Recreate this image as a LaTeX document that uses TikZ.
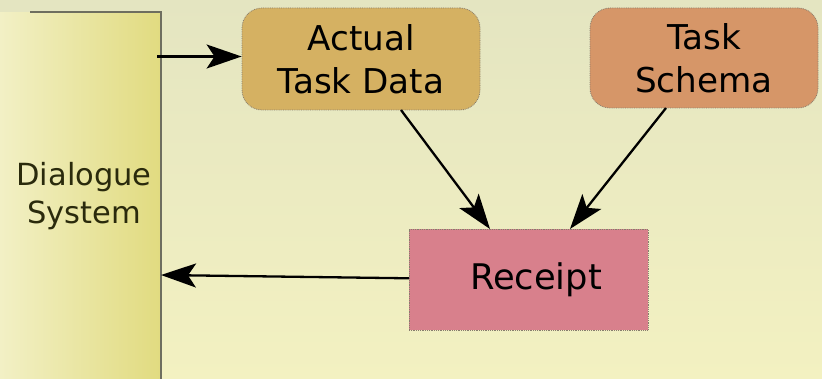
\documentclass[tikz,border=0pt]{standalone}
\usepackage{fontspec}
\setmainfont{DejaVu Sans}
\usetikzlibrary{arrows.meta}
\definecolor{bgtop}{RGB}{228,229,193}
\definecolor{bgbot}{RGB}{243,241,193}
\definecolor{panelL}{RGB}{242,240,197}
\definecolor{panelR}{RGB}{225,219,128}
\definecolor{panelline}{RGB}{110,110,95}
\definecolor{atdfill}{RGB}{213,177,98}
\definecolor{tsfill}{RGB}{214,150,104}
\definecolor{rcfill}{RGB}{216,128,140}
\definecolor{boxline}{RGB}{135,125,110}
\definecolor{dstext}{RGB}{42,42,12}
\tikzset{
  boxstyle/.style={draw=boxline, densely dotted, line width=0.8pt, inner sep=0pt, align=center,
    font=\fontsize{34.2}{42.6}\selectfont, text=black},
  roundbox/.style={boxstyle, rounded corners=20pt},
  conn/.style={line width=2.3pt, -{Stealth[length=35pt,width=24pt,inset=8pt]}}
}
\begin{document}
\begin{tikzpicture}[x=1pt,y=-1pt]
\useasboundingbox (0,0) rectangle (822,379);
\shade[top color=bgtop, bottom color=bgbot] (0,0) rectangle (822,379);
% dialogue system panel
\node[left color=panelL, right color=panelR, minimum width=161pt, minimum height=366pt,
  inner sep=0pt, align=center, text=dstext, font=\fontsize{30.5}{38.4}\selectfont]
  (ds) at (80.5,196) {\hspace*{7pt}Dialogue\\\hspace*{7pt}System};
\draw[panelline, line width=1.5pt] (30,12) -- (161,12) -- (161,379);
% boxes
\node[roundbox, fill=atdfill, minimum width=238pt, minimum height=102pt] (atd) at (361,59) {Actual\\Task Data};
\node[roundbox, fill=tsfill, minimum width=228pt, minimum height=100pt] (ts) at (704,58) {Task\\Schema};
\node[boxstyle, fill=rcfill, minimum width=239pt, minimum height=101pt, font=\fontsize{35.3}{42}\selectfont] (rc) at (528.5,279.5) {\hspace*{15pt}Receipt};
% connectors
\coordinate (dsout) at (157,56.5);
\coordinate (dsin) at (161,275);
\coordinate (atdout) at (401,110);
\coordinate (tsout) at (666,108);
\coordinate (rcin1) at (490,229);
\coordinate (rcin2) at (570,229);
\coordinate (rcout) at (409,278.3);
\draw[conn] (dsout) -- (atd.west |- dsout);
\draw[conn] (atdout) -- (rcin1);
\draw[conn] (tsout) -- (rcin2);
\draw[conn] (rcout) -- (dsin);
\end{tikzpicture}
\end{document}
